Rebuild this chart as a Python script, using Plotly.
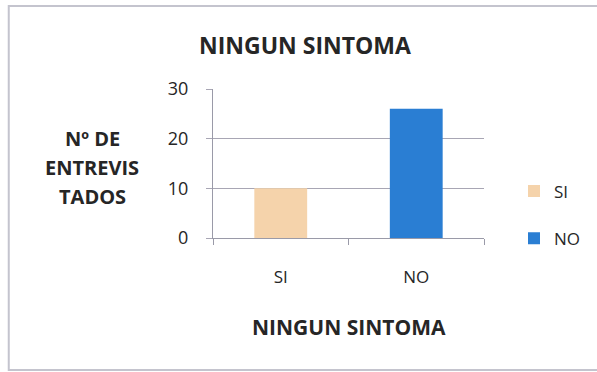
import plotly.graph_objects as go

# Survey answers: number of interviewees reporting no symptoms
categories = ["SI", "NO"]
counts = [10, 26]
colors = ["#F5D3AB", "#2A7ED3"]
y_ticks = [0, 10, 20, 30]

title_text = "NINGUN SINTOMA"
x_title = "NINGUN SINTOMA"
y_title_lines = ["Nº DE", "ENTREVIS", "TADOS"]

FONT = "Open Sans, Lato, sans-serif"
TXT = "#262626"

# plot area in pixels (used to place paper-referenced text)
L, R, T, B = 213, 485, 89, 238
W, H = R - L, B - T


def px(x):
    return (x - L) / W


def py(y):
    return (B - y) / H


fig = go.Figure()
for cat, val, col in zip(categories, counts, colors):
    fig.add_trace(go.Bar(
        x=[cat], y=[val], name=cat, marker_color=col,
        marker_line_width=0, width=0.39, legendgroup=cat,
    ))

annotations = [
    dict(text=f"<b>{title_text}</b>", xref="paper", yref="paper",
         x=px(305), y=py(45), xanchor="center", yanchor="middle",
         showarrow=False, font=dict(size=23, color=TXT)),
    dict(text=f"<b>{x_title}</b>", xref="paper", yref="paper",
         x=px(350), y=py(327), xanchor="center", yanchor="middle",
         showarrow=False, font=dict(size=21, color=TXT)),
]
for line, ypix in zip(y_title_lines, [138, 167, 196]):
    annotations.append(dict(
        text=f"<b>{line}</b>", xref="paper", yref="paper",
        x=px(92), y=py(ypix), xanchor="center", yanchor="middle",
        showarrow=False, font=dict(size=20, color=TXT)))

fig.update_layout(
    width=597, height=372,
    margin=dict(l=L, r=597 - R, t=T, b=372 - B),
    paper_bgcolor="white", plot_bgcolor="white",
    barmode="overlay",
    font=dict(family=FONT, color=TXT, size=16),
    showlegend=True,
    legend=dict(
        x=px(514), y=py(215), xanchor="left", yanchor="middle",
        font=dict(size=17, color=TXT), tracegroupgap=22,
        itemwidth=30, bgcolor="rgba(0,0,0,0)",
    ),
    xaxis=dict(
        type="category", categoryorder="array", categoryarray=categories,
        showline=True, linecolor="#9a9aa8", linewidth=1,
        tickson="boundaries", ticks="outside", ticklen=6, tickcolor="#9a9aa8",
        ticklabelstandoff=24, tickfont=dict(size=17, color=TXT),
        showgrid=False,
    ),
    yaxis=dict(
        range=[0, 30], tickvals=y_ticks, showline=True, linecolor="#9a9aa8",
        linewidth=1, ticks="outside", ticklen=6, tickcolor="#a8a6b4",
        ticklabelstandoff=14,
        showgrid=True, gridcolor="#a8a6b4", gridwidth=1,
        zeroline=False, tickfont=dict(size=18, color=TXT),
    ),
    annotations=annotations,
    shapes=[
        dict(type="rect", xref="paper", yref="paper",
             x0=px(8), x1=px(640), y0=py(370), y1=py(6),
             line=dict(color="#c4c4ce", width=2), layer="below"),
    ],
)

fig.write_html("out.html")
